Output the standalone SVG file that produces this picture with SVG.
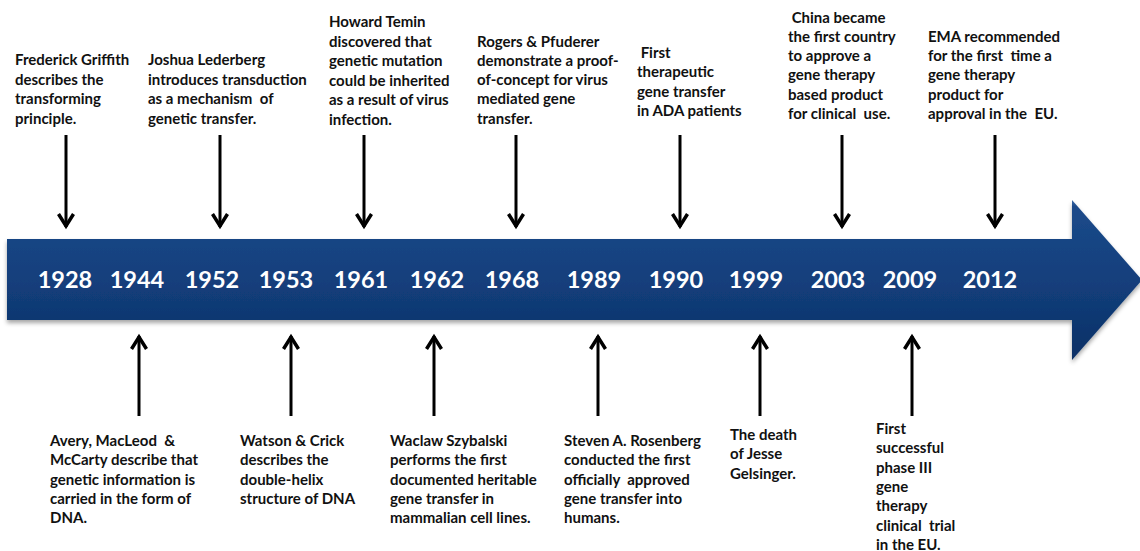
<svg xmlns="http://www.w3.org/2000/svg" width="1140" height="551" viewBox="0 0 1140 551">
<defs>
<linearGradient id="bandGrad" x1="0" y1="0" x2="0" y2="1">
<stop offset="0" stop-color="#3d6aa8"/>
<stop offset="0.04" stop-color="#1c4a8a"/>
<stop offset="0.5" stop-color="#133f7c"/>
<stop offset="1" stop-color="#0c3066"/>
</linearGradient>
<filter id="shadow" x="-5%" y="-20%" width="110%" height="150%">
<feGaussianBlur in="SourceAlpha" stdDeviation="2"/>
<feOffset dx="0" dy="3" result="b"/>
<feFlood flood-color="#000" flood-opacity="0.35"/>
<feComposite in2="b" operator="in"/>
<feMerge><feMergeNode/><feMergeNode in="SourceGraphic"/></feMerge>
</filter>
<marker id="head" markerUnits="userSpaceOnUse" viewBox="-16 -10 20 20" refX="0" refY="0" markerWidth="20" markerHeight="20" orient="auto" overflow="visible">
<path d="M-13,-7.5 L-1,0 L-13,7.5" fill="none" stroke="#000" stroke-width="3.5" stroke-linejoin="miter"/>
</marker>
</defs>
<style>
.t{font-family:Lato,"Liberation Sans",sans-serif;font-weight:bold;font-size:15px;fill:#111;white-space:pre}
.yr{font-family:Lato,"Liberation Sans",sans-serif;font-weight:bold;font-size:23.5px;fill:#fff;text-anchor:middle}
.c{stroke:#000;stroke-width:3;fill:none;marker-end:url(#head)}
</style>
<rect width="1140" height="551" fill="#fff"/>
<g id="timeline-arrow">
<polygon points="7,239 1072,239 1072,200 1142,280 1072,360 1072,320 7,320" fill="url(#bandGrad)" filter="url(#shadow)"/>
<text class="yr" x="65" y="288">1928</text>
<text class="yr" x="137" y="288">1944</text>
<text class="yr" x="212" y="288">1952</text>
<text class="yr" x="286" y="288">1953</text>
<text class="yr" x="361" y="288">1961</text>
<text class="yr" x="437" y="288">1962</text>
<text class="yr" x="512" y="288">1968</text>
<text class="yr" x="594" y="288">1989</text>
<text class="yr" x="676" y="288">1990</text>
<text class="yr" x="756" y="288">1999</text>
<text class="yr" x="838" y="288">2003</text>
<text class="yr" x="910" y="288">2009</text>
<text class="yr" x="990" y="288">2012</text>
</g>
<g id="connectors">
<line class="c" x1="66" y1="135" x2="66" y2="227"/>
<line class="c" x1="220" y1="135" x2="220" y2="227"/>
<line class="c" x1="364" y1="135" x2="364" y2="227"/>
<line class="c" x1="516" y1="135" x2="516" y2="227"/>
<line class="c" x1="680" y1="135" x2="680" y2="227"/>
<line class="c" x1="842" y1="135" x2="842" y2="227"/>
<line class="c" x1="995" y1="135" x2="995" y2="227"/>
<line class="c" x1="139" y1="416" x2="139" y2="336"/>
<line class="c" x1="291" y1="416" x2="291" y2="336"/>
<line class="c" x1="434" y1="416" x2="434" y2="336"/>
<line class="c" x1="598" y1="416" x2="598" y2="336"/>
<line class="c" x1="760" y1="416" x2="760" y2="336"/>
<line class="c" x1="912" y1="416" x2="912" y2="336"/>
</g>
<g id="n1928">
<text class="t" x="15" y="65"><tspan x="15">Frederick Griffith</tspan><tspan x="15" dy="19.5">describes the</tspan><tspan x="15" dy="19.5">transforming</tspan><tspan x="15" dy="19.5">principle.</tspan></text>
</g>
<g id="n1952">
<text class="t" x="148" y="65"><tspan x="148">Joshua Lederberg</tspan><tspan x="148" dy="19.5">introduces transduction</tspan><tspan x="148" dy="19.5">as a mechanism  of</tspan><tspan x="148" dy="19.5">genetic transfer.</tspan></text>
</g>
<g id="n1961">
<text class="t" x="329" y="27"><tspan x="329">Howard Temin</tspan><tspan x="329" dy="19.5">discovered that</tspan><tspan x="329" dy="19.5">genetic mutation</tspan><tspan x="329" dy="19.5">could be inherited</tspan><tspan x="329" dy="19.5">as a result of virus</tspan><tspan x="329" dy="19.5">infection.</tspan></text>
</g>
<g id="n1968">
<text class="t" x="477" y="46.5"><tspan x="477">Rogers &amp; Pfuderer</tspan><tspan x="477" dy="19.3">demonstrate a proof-</tspan><tspan x="477" dy="19.3">of-concept for virus</tspan><tspan x="477" dy="19.3">mediated gene</tspan><tspan x="477" dy="19.3">transfer.</tspan></text>
</g>
<g id="n1990">
<text class="t" x="637" y="57.5"><tspan x="637"> First</tspan><tspan x="637" dy="19.5">therapeutic</tspan><tspan x="637" dy="19.5">gene transfer</tspan><tspan x="637" dy="19.5">in ADA patients</tspan></text>
</g>
<g id="n2003">
<text class="t" x="788" y="22.5"><tspan x="788"> China became</tspan><tspan x="788" dy="19.3">the first country</tspan><tspan x="788" dy="19.3">to approve a</tspan><tspan x="788" dy="19.3">gene therapy</tspan><tspan x="788" dy="19.3">based product</tspan><tspan x="788" dy="19.3">for clinical  use.</tspan></text>
</g>
<g id="n2012">
<text class="t" x="928" y="41.8"><tspan x="928">EMA recommended</tspan><tspan x="928" dy="19.3">for the first  time a</tspan><tspan x="928" dy="19.3">gene therapy</tspan><tspan x="928" dy="19.3">product for</tspan><tspan x="928" dy="19.3">approval in the  EU.</tspan></text>
</g>
<g id="n1944">
<text class="t" x="50" y="446"><tspan x="50">Avery, MacLeod  &amp;</tspan><tspan x="50" dy="19.3">McCarty describe that</tspan><tspan x="50" dy="19.3">genetic information is</tspan><tspan x="50" dy="19.3">carried in the form of</tspan><tspan x="50" dy="19.3">DNA.</tspan></text>
</g>
<g id="n1953">
<text class="t" x="240" y="446"><tspan x="240">Watson &amp; Crick</tspan><tspan x="240" dy="19.3">describes the</tspan><tspan x="240" dy="19.3">double-helix</tspan><tspan x="240" dy="19.3">structure of DNA</tspan></text>
</g>
<g id="n1962">
<text class="t" x="390" y="446"><tspan x="390">Waclaw Szybalski</tspan><tspan x="390" dy="19.3">performs the first</tspan><tspan x="390" dy="19.3">documented heritable</tspan><tspan x="390" dy="19.3">gene transfer in</tspan><tspan x="390" dy="19.3">mammalian cell lines.</tspan></text>
</g>
<g id="n1989">
<text class="t" x="564" y="446"><tspan x="564">Steven A. Rosenberg</tspan><tspan x="564" dy="19.3">conducted the first</tspan><tspan x="564" dy="19.3">officially  approved</tspan><tspan x="564" dy="19.3">gene transfer into</tspan><tspan x="564" dy="19.3">humans.</tspan></text>
</g>
<g id="n1999">
<text class="t" x="730" y="440"><tspan x="730">The death</tspan><tspan x="730" dy="19.3">of Jesse</tspan><tspan x="730" dy="19.3">Gelsinger.</tspan></text>
</g>
<g id="n2009">
<text class="t" x="876" y="434"><tspan x="876">First</tspan><tspan x="876" dy="19.3">successful</tspan><tspan x="876" dy="19.3">phase III</tspan><tspan x="876" dy="19.3">gene</tspan><tspan x="876" dy="19.3">therapy</tspan><tspan x="876" dy="19.3">clinical  trial</tspan><tspan x="876" dy="19.3">in the EU.</tspan></text>
</g>
</svg>
